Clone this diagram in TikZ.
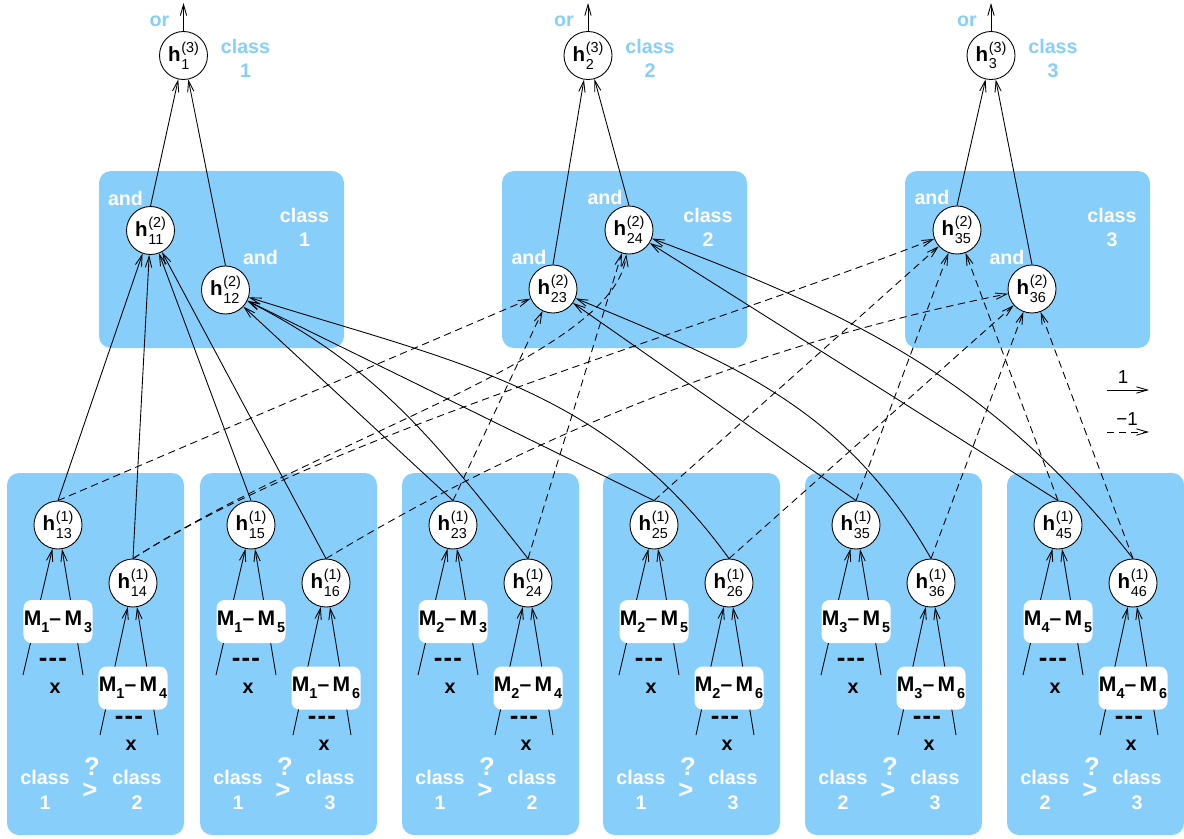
\documentclass[tikz,border=0pt]{standalone}
\usepackage{fontspec}
\setmainfont{Liberation Sans}
\usetikzlibrary{arrows.meta}
\definecolor{sky}{RGB}{135,206,250}
\newcommand\supsubx[2]{\begingroup\fontsize{12.3}{14}\selectfont\setbox0\hbox{(#1)}\setbox2\hbox{#2}\ifdim\wd0>\wd2 \dimen0=\wd0 \else \dimen0=\wd2 \fi\rlap{\raisebox{7.7pt}{\box0}}\rlap{\raisebox{-6.5pt}{\box2}}\kern\dimen0\endgroup}
\newcommand\hsym[2]{{\fontsize{17.5}{20}\selectfont\bfseries h}\kern0.6pt\supsubx{#1}{#2}}
\newcommand\mm[2]{{\fontsize{18}{20}\selectfont\bfseries M}\raisebox{-5.7pt}{\fontsize{12.3}{14}\selectfont #1}{\fontsize{18}{20}\selectfont\bfseries –\kern3pt M}\kern1.5pt\raisebox{-5.7pt}{\fontsize{12.3}{14}\selectfont #2}}
\newcommand\tdash{\raisebox{-5.4pt}[2.6pt][0pt]{-\kern1pt-\kern1pt-}}
\tikzset{
  every node/.style={font=\fontsize{16.8}{21}\selectfont\bfseries, inner sep=1pt},
  hnode/.style={circle, draw, fill=white, line width=0.75pt, minimum size=1.44cm, inner sep=0pt, font=\normalfont},
  mbox/.style={rounded corners=2.4mm, fill=white, minimum width=2.07cm, minimum height=1.29cm, inner sep=0pt},
  wlab/.style={text=white, align=center},
  blab/.style={text=sky, align=center},
  con/.style={line width=0.75pt, -{Straight Barb[length=3.3mm,width=1.9mm]}},
  neg/.style={con, dash pattern=on 2.2mm off 1.4mm},
  bgbox/.style={fill=sky, rounded corners=3.6mm},
  dots/.style={font=\fontsize{22}{24}\selectfont\bfseries, inner sep=0pt},
  bigsym/.style={text=white, font=\fontsize{22}{24}\selectfont\bfseries, inner sep=0pt},
  legend/.style={font=\fontsize{16}{18}\selectfont}
}
\begin{document}
\begin{tikzpicture}[x=0.03cm,y=-0.03cm]
\useasboundingbox (0,0) rectangle (1184,838);
% background boxes
\foreach \L in {99,502,905} \fill[bgbox] (\L,171) rectangle ++(245,177);
\foreach \L in {7,200,402,603,805,1007} \fill[bgbox] (\L,473) rectangle ++(177,362);
% bottom layer
\foreach \L/\na/\nb/\ma/\mb/\mc/\md/\cA/\cB in {7/13/14/1/3/1/4/1/2, 200/15/16/1/5/1/6/1/3, 402/23/24/2/3/2/4/1/2, 603/25/26/2/5/2/6/1/3, 805/35/36/3/5/3/6/2/3, 1007/45/46/4/5/4/6/2/3}{
  \node[hnode] (b\na) at (\L+51,525) {\hsym{1}{\na}};
  \node[hnode] (b\nb) at (\L+126,583) {\hsym{1}{\nb}};
  \coordinate (pl\na) at (\L+16,675);
  \coordinate (pr\na) at (\L+76,675);
  \coordinate (pl\nb) at (\L+93,735);
  \coordinate (pr\nb) at (\L+151,735);
  \draw[con] (pl\na) -- (b\na);
  \draw[con] (pr\na) -- (b\na);
  \draw[con] (pl\nb) -- (b\nb);
  \draw[con] (pr\nb) -- (b\nb);
  \node[mbox] (M\na) at (\L+51,621.5) {\mm{\ma}{\mb}};
  \node[mbox] (M\nb) at (\L+126,688) {\mm{\mc}{\md}};
  \node[dots] (d\na) at (\L+46,659) {\tdash};
  \node[dots] (d\nb) at (\L+122,717) {\tdash};
  \node (x\na) at (\L+48,688) {x};
  \node (x\nb) at (\L+124,745) {x};
  \node[wlab] (cl\na) at (\L+38,790) {class\\\cA};
  \node[wlab] (cr\na) at (\L+130,790) {class\\\cB};
  \node[bigsym] (q\na) at (\L+85,766) {?};
  \node[bigsym] (g\na) at (\L+83,791) {>};
}
% middle layer
\node[hnode] (m11) at (150.5,230.5) {\hsym{2}{11}};
\node[hnode] (m12) at (225.5,290) {\hsym{2}{12}};
\node[hnode] (m23) at (553,289) {\hsym{2}{23}};
\node[hnode] (m24) at (629,230) {\hsym{2}{24}};
\node[hnode] (m35) at (957,230) {\hsym{2}{35}};
\node[hnode] (m36) at (1032,289) {\hsym{2}{36}};
\node[wlab] (a11) at (125.5,198) {and};
\node[wlab] (a12) at (260.5,257) {and};
\node[wlab] (a23) at (529,257) {and};
\node[wlab] (a24) at (605,197) {and};
\node[wlab] (a35) at (932,197) {and};
\node[wlab] (a36) at (1007,257) {and};
\node[wlab] (c1) at (304.5,227.5) {class\\1};
\node[wlab] (c2) at (708,227.5) {class\\2};
\node[wlab] (c3) at (1112,227.5) {class\\3};
% top layer
\foreach \i/\X in {1/183.5,2/588,3/991}{
  \node[hnode] (t\i) at (\X,55.5) {\hsym{3}{\i}};
  \coordinate (o\i) at (\X,3);
  \draw[con] (t\i.north) -- (o\i);
  \node[blab] (or\i) at (\X-24,21.5) {or};
  \node[blab] (tc\i) at (\X+62,58.5) {class\\\i};
}
% connectors
\foreach \s/\t in {b13/m11,b14/m11,b15/m11,b16/m11,b23/m12,b25/m12,b35/m23,b45/m24,m11/t1,m12/t1,m23/t2,m24/t2,m35/t3,m36/t3}
  \draw[con] (\s.north) -- (\t);
\foreach \s/\t in {b13/m23,b23/m23,b24/m24,b25/m35,b26/m36,b35/m35,b36/m36,b45/m35,b46/m36}
  \draw[neg] (\s.north) -- (\t);
\draw[con] (b24.north) .. controls (436,442) and (378,367) .. (m12);
\draw[con] (b26.north) .. controls (605,387) and (454,362) .. (m12);
\draw[con] (b36.north) .. controls (846,409) and (735,364) .. (m23);
\draw[con] (b46.north) .. controls (995,384) and (862,317) .. (m24);
\draw[neg] (b14.north) .. controls (323,437) and (615,356) .. (m24);
\draw[neg] (b14.north) .. controls (323,437) and (693,333) .. (m35);
\draw[neg] (b16.north) .. controls (527,437) and (760,343) .. (m36);
% legend
\coordinate (la) at (1107,390); \coordinate (lb) at (1149,390);
\coordinate (lc) at (1107,432); \coordinate (ld) at (1149,432);
\draw[con] (la) -- (lb);
\draw[neg] (lc) -- (ld);
\node[legend] (l1) at (1123,377) {1};
\node[legend] (l2) at (1127,419) {−1};
\end{tikzpicture}
\end{document}
